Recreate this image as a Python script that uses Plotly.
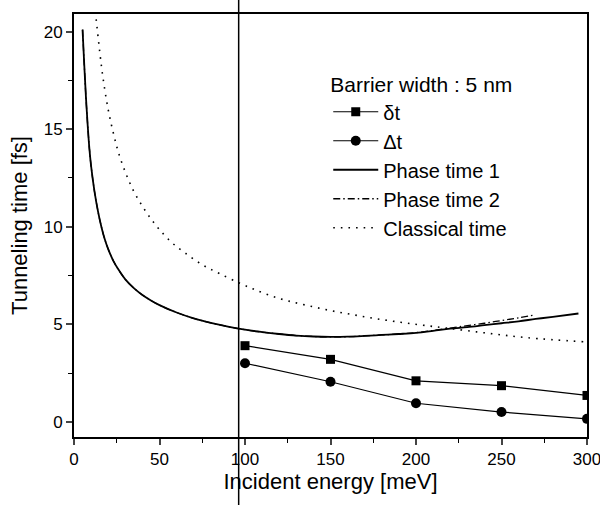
import plotly.graph_objects as go

# ---- data ----
energy_markers = [100, 150, 200, 250, 300]
delta_t_small = [3.9, 3.2, 2.1, 1.85, 1.35]   # δt
delta_t_big = [3.0, 2.05, 0.95, 0.5, 0.15]     # Δt

phase1_x = [5, 6, 7, 8, 9, 10, 12, 14, 16, 18, 20, 23, 26, 30, 35, 40, 45, 50, 60, 70,
            80, 90, 100, 110, 120, 130, 140, 150, 160, 170, 180, 190, 200, 210, 220,
            230, 240, 250, 260, 270, 280, 295]
phase1_y = [20.1, 18.3, 16.6, 15.2, 14.0, 13.1, 11.8, 10.8, 10.0, 9.35, 8.85, 8.25, 7.8,
            7.3, 6.85, 6.5, 6.22, 5.98, 5.6, 5.3, 5.07, 4.88, 4.72, 4.6, 4.5, 4.42, 4.37,
            4.35, 4.36, 4.4, 4.45, 4.5, 4.56, 4.66, 4.77, 4.85, 4.95, 5.05, 5.15, 5.27,
            5.38, 5.55]

phase2_x = [5, 6, 7, 8, 9, 10, 12, 14, 16, 18, 20, 23, 26, 30, 35, 40, 45, 50, 60, 70,
            80, 90, 100, 110, 120, 130, 140, 150, 160, 170, 180, 190, 200, 210, 220,
            230, 240, 250, 260, 270]
phase2_y = [20.1, 18.3, 16.6, 15.2, 14.0, 13.1, 11.8, 10.8, 10.0, 9.35, 8.85, 8.25, 7.8,
            7.3, 6.85, 6.5, 6.22, 5.98, 5.6, 5.3, 5.07, 4.88, 4.72, 4.6, 4.5, 4.42, 4.37,
            4.35, 4.36, 4.4, 4.45, 4.5, 4.57, 4.68, 4.8, 4.93, 5.05, 5.19, 5.33, 5.48]

classical_x = [12, 13, 15, 17, 20, 23, 26, 30, 35, 40, 45, 50, 57, 65, 75, 85, 97, 105,
               115, 125, 137, 150, 163, 177, 191, 204, 218, 240, 265, 298]
classical_y = [21.4, 20.6, 19.0, 17.6, 16.0, 14.8, 13.8, 12.8, 11.8, 11.05, 10.4, 9.85,
               9.2, 8.65, 8.05, 7.6, 7.1, 6.8, 6.46, 6.2, 5.95, 5.7, 5.49, 5.28, 5.1,
               4.95, 4.8, 4.56, 4.31, 4.1]

x_ticks = [0, 50, 100, 150, 200, 250, 300]
y_ticks = [0, 5, 10, 15, 20]

FONT = "Liberation Sans"

fig = go.Figure()

fig.add_trace(go.Scatter(
    x=energy_markers, y=delta_t_small, name="δt", mode="lines+markers",
    line=dict(color="black", width=1.2),
    marker=dict(symbol="square", size=9, color="black")))
fig.add_trace(go.Scatter(
    x=energy_markers, y=delta_t_big, name="Δt", mode="lines+markers",
    line=dict(color="black", width=1.2),
    marker=dict(symbol="circle", size=10, color="black")))
fig.add_trace(go.Scatter(
    x=phase1_x, y=phase1_y, name="Phase time 1", mode="lines",
    line=dict(color="black", width=1.8, shape="spline")))
fig.add_trace(go.Scatter(
    x=phase2_x, y=phase2_y, name="Phase time 2", mode="lines",
    line=dict(color="black", width=1.3, dash="7px,3px,1.5px,3px", shape="spline")))
fig.add_trace(go.Scatter(
    x=classical_x, y=classical_y, name="Classical time", mode="lines",
    line=dict(color="black", width=1.6, dash="1.6px,6px", shape="spline")))

fig.update_layout(
    width=600, height=505,
    margin=dict(l=74, r=13, t=14, b=68, autoexpand=False),
    paper_bgcolor="white", plot_bgcolor="white",
    font=dict(family=FONT, color="black", size=17),
    showlegend=True,
    legend=dict(
        x=0.4956, y=0.8795, xanchor="left", yanchor="top",
        bgcolor="rgba(0,0,0,0)", borderwidth=0,
        font=dict(size=20, family=FONT),
        title=dict(text="Barrier width : 5 nm", font=dict(size=21, family=FONT)),
        itemwidth=45,
    ),
    shapes=[dict(type="line", xref="paper", yref="paper",
                 x0=0.321, x1=0.321, y0=-0.2, y1=1.05,
                 line=dict(color="black", width=1.5))],
)

fig.update_xaxes(
    range=[0, 300], tickvals=x_ticks, ticks="outside", ticklen=6, tickwidth=1.5,
    showline=True, linecolor="black", linewidth=1.8, mirror=True,
    showgrid=False, zeroline=False, ticklabeloverflow="allow", automargin=False,
    minor=dict(dtick=25, ticks="outside", ticklen=4, tickwidth=1.2, tickcolor="black"),
    tickfont=dict(size=17),
    title=dict(text="Incident energy [meV]", font=dict(size=22), standoff=0),
)
fig.update_yaxes(
    range=[-0.78, 20.9], tickvals=y_ticks, ticks="outside", ticklen=6, tickwidth=1.5,
    showline=True, linecolor="black", linewidth=1.8, mirror=True,
    showgrid=False, zeroline=False, automargin=False,
    minor=dict(dtick=2.5, ticks="outside", ticklen=4, tickwidth=1.2, tickcolor="black"),
    tickfont=dict(size=17),
    title=dict(text="Tunneling time [fs]", font=dict(size=22), standoff=10),
)

fig.write_html(
    "out.html",
    config={"displayModeBar": False},
    post_script="document.body.style.margin='0';document.body.style.overflow='hidden';",
)
